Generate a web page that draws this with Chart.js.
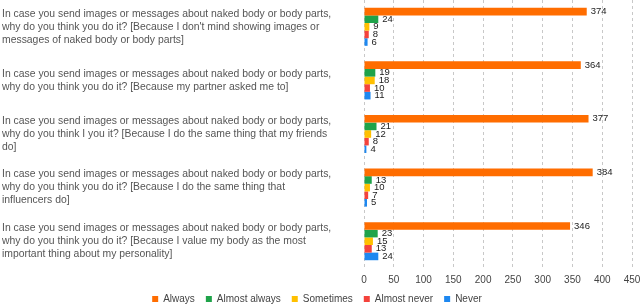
<!DOCTYPE html>
<html>
<head>
<meta charset="utf-8">
<script src="https://cdn.jsdelivr.net/npm/chart.js@4"></script>
<style>
html,body{margin:0;padding:0;background:#fff;}
#wrap{width:640px;height:304px;position:relative;}
</style>
</head>
<body>
<div id="wrap"><canvas id="c" width="640" height="304"></canvas></div>
<script>
const categories = [
  ["In case you send images or messages about naked body or body parts,", "why do you think you do it? [Because I don't mind showing images or", "messages of naked body or body parts]"],
  ["In case you send images or messages about naked body or body parts,", "why do you think you do it? [Because my partner asked me to]"],
  ["In case you send images or messages about naked body or body parts,", "why do you think I you it? [Because I do the same thing that my friends", "do]"],
  ["In case you send images or messages about naked body or body parts,", "why do you think you do it? [Because I do the same thing that", "influencers do]"],
  ["In case you send images or messages about naked body or body parts,", "why do you think you do it? [Because I value my body as the most", "important thing about my personality]"]
];
const seriesNames = ["Always", "Almost always", "Sometimes", "Almost never", "Never"];
const always       = [374, 364, 377, 384, 346];
const almostAlways = [24, 19, 21, 13, 23];
const sometimes    = [9, 18, 12, 10, 15];
const almostNever  = [8, 10, 8, 7, 13];
const never        = [6, 11, 4, 5, 24];
const xTicks = [0, 50, 100, 150, 200, 250, 300, 350, 400, 450];

const colors = ["#ff6d00", "#1fa34a", "#ffc000", "#f4433c", "#1e88f0"];
const seriesValues = [always, almostAlways, sometimes, almostNever, never];
const FONT = '"Liberation Sans", Arial, sans-serif';

const valueLabels = {
  id: 'valueLabels',
  afterDatasetsDraw(chart) {
    const ctx = chart.ctx;
    ctx.save();
    ctx.font = '9.5px ' + FONT;
    ctx.fillStyle = '#222';
    ctx.textBaseline = 'middle';
    ctx.textAlign = 'left';
    chart.data.datasets.forEach((ds, i) => {
      const meta = chart.getDatasetMeta(i);
      meta.data.forEach((el, j) => {
        ctx.fillText(String(ds.data[j]), el.x + 4, el.y);
      });
    });
    ctx.restore();
  }
};

const legendFix = {
  id: 'legendFix',
  afterInit(chart) {
    const lg = chart.legend;
    if (!lg) return;
    const f = lg.fit;
    lg.fit = function () { f.call(this); this.height = 18; };
  },
  afterLayout(chart) {
    const lg = chart.legend;
    if (lg) { lg.top -= 3; }
  }
};

new Chart(document.getElementById('c'), {
  type: 'bar',
  data: {
    labels: categories,
    datasets: seriesNames.map((n, i) => ({
      label: n,
      data: seriesValues[i],
      backgroundColor: colors[i],
      borderWidth: 0,
      categoryPercentage: 0.71,
      barPercentage: 1.0
    }))
  },
  options: {
    indexAxis: 'y',
    responsive: false,
    animation: false,
    devicePixelRatio: 1,
    layout: { padding: { left: 2, right: 8, top: 0, bottom: 0 } },
    plugins: {
      legend: {
        position: 'bottom',
        labels: {
          boxWidth: 6, boxHeight: 6, padding: 11,
          color: '#444',
          font: { size: 10, family: FONT }
        }
      },
      tooltip: { enabled: false }
    },
    scales: {
      x: {
        min: 0, max: 450,
        afterBuildTicks(scale) { scale.ticks = xTicks.map(v => ({ value: v })); },
        afterFit(scale) { scale.height = 18; scale.paddingLeft = 0; scale.paddingRight = 0; },
        grid: { color: '#c8c8c8', drawTicks: false },
        border: { display: true, color: 'rgba(0,0,0,0)', dash: [3, 3] },
        ticks: {
          color: '#444', padding: 6,
          font: { size: 10, family: FONT }
        }
      },
      y: {
        grid: { display: false },
        border: { display: false },
        afterFit(scale) { scale.width = 362; scale.paddingTop = 0; scale.paddingBottom = 0; },
        ticks: {
          crossAlign: 'far',
          color: '#555',
          padding: 0,
          autoSkip: false,
          font: { size: 10.4, family: FONT, lineHeight: 1.25 }
        }
      }
    }
  },
  plugins: [valueLabels, legendFix]
});
</script>
</body>
</html>
